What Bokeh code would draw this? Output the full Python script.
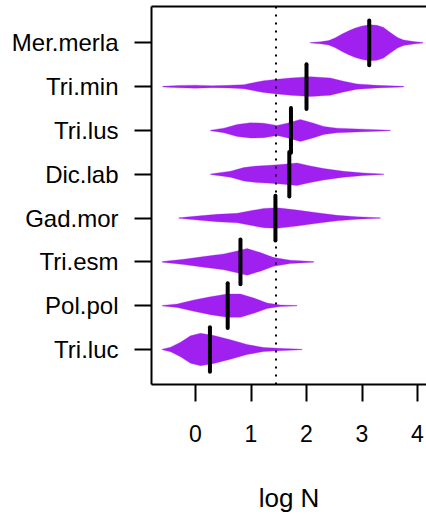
from bokeh.plotting import figure
from bokeh.models import FixedTicker, LinearAxis, Range1d, Span, ColumnDataSource
from bokeh.embed import file_html
from bokeh.resources import INLINE

# Species, bottom to top
species = ["Tri.luc", "Pol.pol", "Tri.esm", "Gad.mor", "Dic.lab", "Tri.lus", "Tri.min", "Mer.merla"]

# Bean outlines: x positions (log N) and relative density
x_tri_luc = [-0.60, -0.45, -0.27, -0.09, 0.09, 0.33, 0.63, 0.93, 1.23, 1.59, 1.92]
d_tri_luc = [0.3, 2.3, 7.3, 13.7, 16.3, 14.0, 9.7, 5.0, 2.0, 1.0, 0.3]

x_pol_pol = [-0.60, -0.33, -0.03, 0.27, 0.57, 0.81, 1.05, 1.29, 1.53, 1.83]
d_pol_pol = [0.3, 1.7, 5.7, 9.0, 11.7, 11.7, 7.7, 2.7, 0.7, 0.2]

x_tri_esm = [-0.60, -0.21, 0.15, 0.51, 0.75, 0.93, 1.17, 1.41, 1.71, 2.13]
d_tri_esm = [0.3, 2.7, 5.3, 8.0, 11.0, 13.3, 9.3, 4.3, 1.7, 0.3]

x_gad_mor = [-0.30, 0.03, 0.39, 0.75, 0.99, 1.23, 1.47, 1.83, 2.19, 2.55, 2.91, 3.33]
d_gad_mor = [0.3, 2.0, 3.7, 4.7, 7.3, 9.7, 10.3, 8.0, 5.3, 2.7, 1.3, 0.3]

x_dic_lab = [0.27, 0.63, 0.87, 1.11, 1.35, 1.59, 1.83, 2.07, 2.31, 2.67, 3.03, 3.39]
d_dic_lab = [0.3, 3.0, 6.7, 8.3, 9.0, 10.0, 11.3, 8.3, 5.7, 3.0, 1.3, 0.3]

x_tri_lus = [0.27, 0.51, 0.75, 0.99, 1.23, 1.47, 1.65, 1.89, 2.13, 2.31, 2.55, 3.03, 3.51]
d_tri_lus = [0.3, 2.3, 6.0, 7.7, 7.3, 5.0, 7.3, 11.0, 7.3, 4.0, 2.3, 1.3, 0.3]

x_tri_min = [-0.59, -0.30, 0.00, 0.30, 0.60, 0.87, 0.99, 1.23, 1.47, 1.71, 2.07, 2.43, 2.67, 2.91, 3.27, 3.75]
d_tri_min = [0.3, 1.2, 1.5, 1.0, 1.3, 2.0, 3.3, 6.0, 7.3, 8.7, 10.0, 8.7, 5.3, 2.7, 1.3, 0.3]

x_mer_merla = [2.07, 2.25, 2.40, 2.52, 2.64, 2.76, 2.88, 3.00, 3.15, 3.27, 3.39, 3.51, 3.64, 3.75, 3.93, 4.10]
d_mer_merla = [0.3, 1.0, 2.2, 5.0, 8.8, 12.0, 14.8, 16.8, 18.0, 17.5, 15.3, 10.3, 5.3, 2.7, 1.3, 0.3]

medians = [0.26, 0.58, 0.81, 1.44, 1.69, 1.72, 2.00, 3.13]
overall_mean = 1.45

x_ticks = [0, 1, 2, 3, 4]
x_label = "log N"

bean_x = [x_tri_luc, x_pol_pol, x_tri_esm, x_gad_mor, x_dic_lab, x_tri_lus, x_tri_min, x_mer_merla]
bean_d = [d_tri_luc, d_pol_pol, d_tri_esm, d_gad_mor, d_dic_lab, d_tri_lus, d_tri_min, d_mer_merla]

half_max = 0.41
dmax = max(max(d) for d in bean_d)
positions = list(range(1, len(species) + 1))

xs, ys = [], []
for pos, bx, bd in zip(positions, bean_x, bean_d):
    hw = [v * half_max / dmax for v in bd]
    xs.append(bx + bx[::-1])
    ys.append([pos + h for h in hw] + [pos - h for h in hw[::-1]])

FONT = "Liberation Sans"

p = figure(width=426, height=520, output_backend="svg", toolbar_location=None,
           x_range=Range1d(-0.793, 4.162), y_range=Range1d(0.201, 8.829),
           min_border_left=151, min_border_right=0, min_border_top=6, min_border_bottom=136)
p.outline_line_color = None
p.xgrid.visible = False
p.ygrid.visible = False

p.patches(xs=xs, ys=ys, fill_color="#A020F0", line_color="#A020F0", line_width=0.3)

med_src = ColumnDataSource(dict(x=medians, y0=[q - 0.51 for q in positions], y1=[q + 0.51 for q in positions]))
p.segment(x0="x", y0="y0", x1="x", y1="y1", source=med_src, line_color="black", line_width=4, line_cap="round")

p.add_layout(Span(location=overall_mean, dimension="height", line_color="black", line_width=2, line_dash="2 6"))

# x axis
xa = p.xaxis[0]
xa.ticker = FixedTicker(ticks=x_ticks)
xa.axis_label = x_label
xa.axis_label_text_font = FONT
xa.axis_label_text_font_size = "26px"
xa.axis_label_text_font_style = "normal"
xa.axis_label_text_color = "black"
xa.axis_label_standoff = 38
xa.major_label_text_font = FONT
xa.major_label_text_font_size = "23px"
xa.major_label_text_color = "black"
xa.major_label_standoff = 23
xa.major_tick_out = 17
xa.major_tick_in = 0
xa.major_tick_line_width = 2
xa.major_tick_line_color = "black"
xa.minor_tick_line_color = None
xa.axis_line_width = 2
xa.axis_line_color = "black"

# y axis
ya = p.yaxis[0]
ya.ticker = FixedTicker(ticks=positions)
ya.major_label_overrides = {q: s for q, s in zip(positions, species)}
ya.major_label_text_font = FONT
ya.major_label_text_font_size = "24px"
ya.major_label_text_color = "black"
ya.major_label_standoff = 16
ya.major_tick_out = 17
ya.major_tick_in = 0
ya.major_tick_line_width = 2
ya.major_tick_line_color = "black"
ya.minor_tick_line_color = None
ya.axis_line_width = 2
ya.axis_line_color = "black"

# top frame line
top = LinearAxis(ticker=FixedTicker(ticks=[]), major_label_text_font_size="0px",
                 major_tick_out=0, major_tick_in=0, minor_tick_out=0, minor_tick_in=0,
                 major_label_standoff=0, axis_line_width=2, axis_line_color="black")
p.add_layout(top, "above")

open("out.html", "w").write(file_html(p, INLINE))
